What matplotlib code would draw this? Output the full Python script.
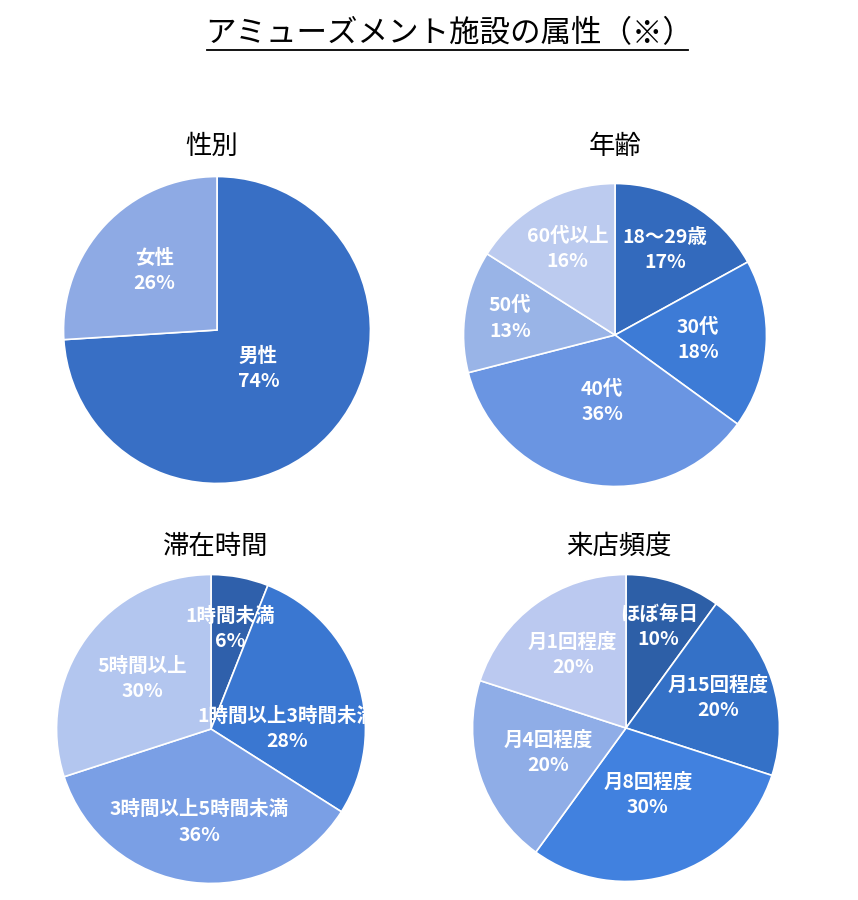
"""
    Attributes of amusement facility visitors, four pie charts
"""
import numpy as np
import matplotlib.pyplot as plt

plt.rcParams['font.family'] = ['Noto Sans CJK JP', 'DejaVu Sans']

# data
gender_labels = ["男性", "女性"]
gender_values = [74, 26]

age_labels = ["18〜29歳", "30代", "40代", "50代", "60代以上"]
age_values = [17, 18, 36, 13, 16]

stay_labels = ["1時間未満", "1時間以上3時間未満", "3時間以上5時間未満", "5時間以上"]
stay_values = [6, 28, 36, 30]

visit_labels = ["ほぼ毎日", "月15回程度", "月8回程度", "月4回程度", "月1回程度"]
visit_values = [10, 20, 30, 20, 20]

W, H = 858, 900


def pie_chart(cx, cy, r, labels, values, colors, label_r, title, title_y,
              title_x=None, angle_shift=None, clip=False):
    """
        Draw one pie with its centre at pixel (cx, cy) and radius r pixels
    """
    ax = fig.add_axes([(cx - r) / W, (H - cy - r) / H, 2 * r / W, 2 * r / H])
    wedges, _ = ax.pie(values, colors=colors, startangle=90, counterclock=False,
                       wedgeprops=dict(edgecolor="white", linewidth=1.2))
    ax.set_xlim(-1.01, 1.01)
    ax.set_ylim(-1.01, 1.01)
    ax.set_aspect("equal")
    ax.axis("off")
    total = sum(values)
    for i, w in enumerate(wedges):
        mid = np.deg2rad((w.theta1 + w.theta2) / 2)
        if angle_shift is not None:
            mid += np.deg2rad(angle_shift[i])
        pct = round(values[i] / total * 100)
        ax.text(label_r[i] * np.cos(mid), label_r[i] * np.sin(mid),
                f"{labels[i]}\n{pct}%", color="white", fontsize=14,
                fontweight="bold", ha="center", va="center", linespacing=1.42,
                clip_on=clip)
    tx = cx if title_x is None else title_x
    fig.text(tx / W, 1 - title_y / H, title, fontsize=19, ha="center", va="center")


fig = plt.figure(figsize=(W / 100, H / 100), dpi=100)

# main title with underline
fig.text(449 / W, 1 - 34 / H, "アミューズメント施設の属性（※）", fontsize=22,
         ha="center", va="center")
fig.add_artist(plt.Line2D([207 / W, 688 / W], [1 - 50 / H, 1 - 50 / H],
                          color="black", linewidth=1.3))

pie_chart(217, 330, 155, gender_labels, gender_values,
          ["#386fc5", "#8eaae4"], [0.37, 0.56], "性別", 146, title_x=212)

pie_chart(615, 335, 153, age_labels, age_values,
          ["#336abd", "#3d7bd6", "#6a95e2", "#99b4e7", "#bccbef"],
          [0.65, 0.55, 0.45, 0.70, 0.65], "年齢", 146)

pie_chart(211, 729, 156, stay_labels, stay_values,
          ["#2f60ab", "#3a77d1", "#7a9fe5", "#b3c6ef"],
          [0.66, 0.49, 0.61, 0.55], "滞在時間", 546, title_x=216,
          angle_shift=[0, -18, 0, 0], clip=True)

pie_chart(626, 728, 155, visit_labels, visit_values,
          ["#2d5fa7", "#3471c7", "#4181df", "#8fade7", "#bbc9f0"],
          [0.69, 0.63, 0.46, 0.53, 0.59], "来店頻度", 546, title_x=619)

plt.savefig("out.png", dpi=100, facecolor="white")
